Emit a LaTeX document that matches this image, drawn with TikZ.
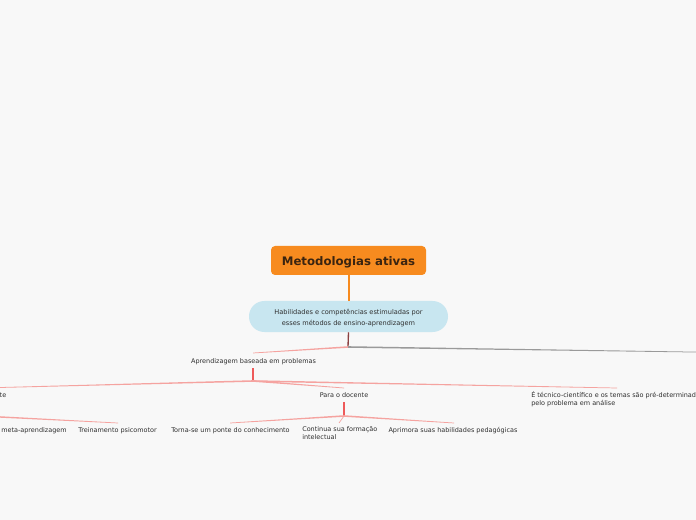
\documentclass[tikz,border=0pt]{standalone}
\usepackage{fontspec}
\setmainfont{DejaVu Sans}
\usetikzlibrary{calc}
\definecolor{bg}{HTML}{F8F8F8}
\definecolor{rootor}{HTML}{F78B1F}
\definecolor{roottxt}{HTML}{3A2410}
\definecolor{bluefill}{HTML}{C8E6F0}
\definecolor{salmon}{HTML}{F5A3A0}
\definecolor{stemred}{HTML}{EE5A5A}
\definecolor{stemdark}{HTML}{8A4040}
\definecolor{grayline}{HTML}{9A9A9A}
\definecolor{txt}{HTML}{2E2E2E}
\newcommand{\taper}[3]{\fill[#3] ($(#1)+(0,0.8)$) -- ($(#2)+(0,0.35)$) -- ($(#2)-(0,0.35)$) -- ($(#1)-(0,0.8)$) -- cycle;}
\begin{document}
\begin{tikzpicture}[x=0.75pt,y=-0.75pt,
  leaf/.style={font=\fontsize{4.85}{6}\selectfont, text=txt, inner sep=0pt},
  rootbox/.style={fill=rootor, rounded corners=3pt, minimum width=116.25pt, minimum height=21.75pt, inner sep=0pt},
  roottext/.style={text=roottxt, inner sep=0pt, font=\fontsize{8.8}{10}\selectfont\bfseries},
  habbox/.style={fill=bluefill, rounded corners=11.5pt, minimum width=149.25pt, minimum height=23.25pt, inner sep=0pt},
  habtext/.style={text=txt, inner sep=0pt, align=center, font=\fontsize{4.95}{8.25}\selectfont},
  stem/.style={stemred, line width=1pt},
  rootline/.style={rootor, line width=1.5pt}]
\useasboundingbox (0,0) rectangle (696,520);
\fill[bg] (0,0) rectangle (696,520);
\begin{scope}
\clip (0,0) rectangle (696,520);
% nodes
\node[rootbox] (root) at (348.5,260.5) {};
\node[roottext] (roott) at (348.5,262.3) {Metodologias ativas};
\node[habbox] (hab) at (348.5,316.5) {};
\node[habtext] (habt) at (348.5,318) {Habilidades e competências estimuladas por\\esses métodos de ensino-aprendizagem};
\node[leaf] (ap) at (253.5,361.3) {Aprendizagem baseada em problemas};
\node[leaf, anchor=east] (dis) at (6.5,395.3) {Para o discente};
\node[leaf] (doc) at (344,395.3) {Para o docente};
\node[leaf, anchor=north west, align=left] (tec) at (531,391.1) {É técnico-científico e os temas são pré-determinados\\pelo problema em análise};
\node[leaf, anchor=west] (meta) at (1,430.3) {meta-aprendizagem};
\node[leaf] (tre) at (117.5,430.3) {Treinamento psicomotor};
\node[leaf] (tor) at (230.5,430.3) {Torna-se um ponte do conhecimento};
\node[leaf, anchor=north west, align=left] (con) at (302,426.1) {Continua sua formação\\intelectual};
\node[leaf] (apr) at (453,430.3) {Aprimora suas habilidades pedagógicas};
% coordinates
\coordinate (hj) at (348,347);
\coordinate (rightin) at (705,352.2);
\coordinate (apin) at (253,353);
\coordinate (aps) at (253,368);
\coordinate (apj) at (253,381);
\coordinate (disin) at (-19,388);
\coordinate (docin) at (344,388);
\coordinate (tecin) at (617,388);
\coordinate (diss) at (-19,402);
\coordinate (disj) at (-19,416);
\coordinate (docs) at (344,402);
\coordinate (docj) at (344,416);
\coordinate (trein) at (118,423);
\coordinate (torin) at (230,423);
\coordinate (conin) at (339,423);
\coordinate (aprin) at (454,423);
% connectors
\draw[rootline] (root.south) -- (hab.north);
\draw[stemdark, line width=1pt] (hab.south) -- (hj);
\taper{hj}{apin}{salmon}
\taper{hj}{rightin}{grayline}
\draw[stem] (aps) -- (apj);
\taper{apj}{disin}{salmon}
\taper{apj}{docin}{salmon}
\taper{apj}{tecin}{salmon}
\draw[stem] (diss) -- (disj);
\draw[stem] (docs) -- (docj);
\taper{disj}{trein}{salmon}
\taper{docj}{torin}{salmon}
\taper{docj}{aprin}{salmon}
\draw[salmon, line width=0.5pt] (docj) -- (conin);
\end{scope}
\end{tikzpicture}
\end{document}
